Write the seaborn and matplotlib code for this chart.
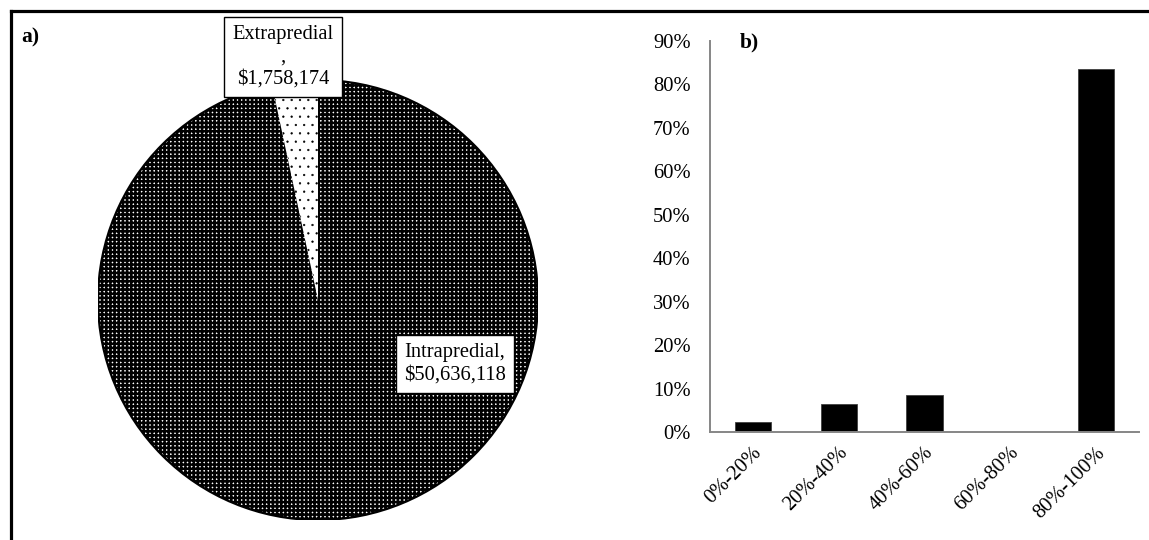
import matplotlib
matplotlib.use("Agg")
import matplotlib.pyplot as plt
from matplotlib.lines import Line2D
from matplotlib.patches import Circle
from matplotlib.ticker import PercentFormatter, FixedLocator
from matplotlib.transforms import ScaledTranslation
import seaborn as sns
import pandas as pd

# ---- data -------------------------------------------------------------
pie_labels = ["Extrapredial", "Intrapredial"]
pie_values = [1758174, 50636118]

bar_categories = ["0%-20%", "20%-40%", "40%-60%", "60%-80%", "80%-100%"]
bar_values = [2.4, 6.4, 8.5, 0.0, 83.6]
y_ticks = [0, 10, 20, 30, 40, 50, 60, 70, 80, 90]

# ---- style ------------------------------------------------------------
sns.set_style("white")
plt.rcParams["font.family"] = ["Liberation Serif", "DejaVu Serif"]
plt.rcParams["hatch.linewidth"] = 1.85
plt.rcParams["text.color"] = "black"
plt.rcParams["xtick.labelcolor"] = "black"
plt.rcParams["ytick.labelcolor"] = "black"

W, H = 1149, 540
fig = plt.figure(figsize=(W / 100, H / 100), dpi=100)

FS = 14.8
AXIS_GREY = "#868686"

# outer frame (left and top edges)
fx, fy = 10.5 / W, 1 - 10.5 / H
fig.add_artist(Line2D([fx, fx], [0, fy], color="black", lw=2.3,
                      transform=fig.transFigure, solid_capstyle="projecting"))
fig.add_artist(Line2D([fx, 1], [fy, fy], color="black", lw=2.3,
                      transform=fig.transFigure, solid_capstyle="projecting"))

# ---- a) pie -----------------------------------------------------------
cx, cy, r = 318, 300, 220
ax_pie = fig.add_axes([(cx - r) / W, (H - cy - r) / H, 2 * r / W, 2 * r / H])
wedges, _ = ax_pie.pie(
    pie_values, startangle=90, counterclock=True, radius=1,
    colors=["white", "white"],
    wedgeprops=dict(edgecolor="black", linewidth=0),
)
# sparse fine dots for the small slice, dense dark grid for the large one
wedges[0].set_hatch("..")
wedges[1].set_hatch("++++")
if hasattr(wedges[0], "set_hatch_linewidth"):
    wedges[0].set_hatch_linewidth(0.4)
else:
    wedges[0]._hatch_linewidth = 0.4
ax_pie.add_patch(Circle((0, 0), 1, fill=False, edgecolor="black", lw=1.6))
ax_pie.set_xlim(-1, 1)
ax_pie.set_ylim(-1, 1)
ax_pie.set_aspect("equal")
ax_pie.axis("off")

box = dict(boxstyle="square,pad=0.4", facecolor="white", edgecolor="black", lw=1.0)
label_pos = [(-0.16, 1.105), (0.623, -0.29)]
label_sep = ["\n,\n", ",\n"]
for name, val, pos, sep in zip(pie_labels, pie_values, label_pos, label_sep):
    ax_pie.text(pos[0], pos[1], name + sep + "\\$" + f"{val:,}",
                ha="center", va="center", fontsize=FS, linespacing=1.22,
                color="black", bbox=box, zorder=5, clip_on=False)

fig.text(21 / W, 1 - 37 / H, "a)", fontsize=15.5, fontweight="bold",
         color="black", ha="left", va="center")

# ---- b) bars ----------------------------------------------------------
left, right, bottom, top = 710, 1139, 432, 41
ax_bar = fig.add_axes([left / W, (H - bottom) / H, (right - left) / W, (bottom - top) / H])
df = pd.DataFrame({"cat": bar_categories, "val": bar_values})
sns.barplot(data=df, x="cat", y="val", ax=ax_bar, color="black",
            width=0.42, edgecolor="#404040", linewidth=0.6, saturation=1)

ax_bar.set_xlim(-0.5, len(bar_categories) - 0.5)
ax_bar.set_ylim(0, 90)
ax_bar.set_xlabel("")
ax_bar.set_ylabel("")
ax_bar.yaxis.set_major_locator(FixedLocator(y_ticks))
ax_bar.yaxis.set_major_formatter(PercentFormatter(decimals=0))

# category boundaries carry the tick marks, labels sit at the centres
n = len(bar_categories)
ax_bar.set_xticks([i - 0.5 for i in range(n + 1)])
ax_bar.set_xticklabels([""] * (n + 1))
ax_bar.set_xticks(list(range(n)), minor=True)
ax_bar.set_xticklabels(bar_categories, minor=True, rotation=45,
                       ha="right", va="center", rotation_mode="anchor",
                       fontsize=FS, color="black")
ax_bar.tick_params(axis="x", which="minor", length=0, pad=13)
ax_bar.tick_params(axis="x", which="major", length=5, width=1.1,
                   color=AXIS_GREY, direction="out")
ax_bar.tick_params(axis="y", length=5, width=1.1, color=AXIS_GREY,
                   direction="out", labelsize=FS, labelcolor="black", pad=9)
offset = ScaledTranslation(6 / 100, 0, fig.dpi_scale_trans)
for lbl in ax_bar.get_xticklabels(minor=True):
    lbl.set_transform(lbl.get_transform() + offset)

for side in ("top", "right"):
    ax_bar.spines[side].set_visible(False)
for side in ("left", "bottom"):
    ax_bar.spines[side].set_color(AXIS_GREY)
    ax_bar.spines[side].set_linewidth(1.4)

fig.text(740 / W, 1 - 42 / H, "b)", fontsize=15.5, fontweight="bold",
         color="black", ha="left", va="center")

fig.savefig("out.png", dpi=100)
